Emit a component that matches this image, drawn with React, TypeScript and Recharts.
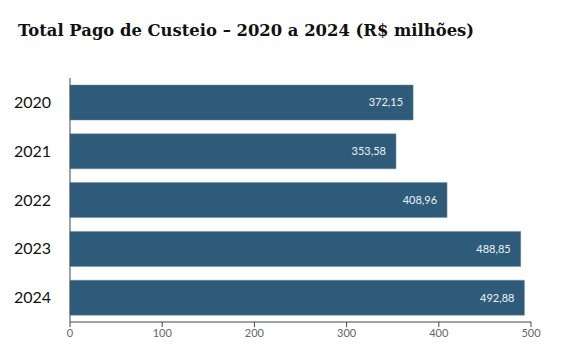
import React from "react";
import { BarChart, Bar, XAxis, YAxis, LabelList } from "recharts";

const years = ["2020", "2021", "2022", "2023", "2024"];
const values = [372.15, 353.58, 408.96, 488.85, 492.88];
const xTicks = [0, 100, 200, 300, 400, 500];

const data = years.map((year, i) => ({ year, value: values[i] }));

const fmt = (v: number) => v.toFixed(2).replace(".", ",");

export default function App() {
  return (
    <div style={{ position: "absolute", left: 0, top: 0, width: 567, height: 358, background: "#fff" }}>
      <div
        style={{
          position: "absolute",
          left: 18,
          top: 21,
          fontFamily: "DejaVu Serif",
          fontWeight: 700,
          fontSize: 16.4,
          color: "#111",
          whiteSpace: "nowrap",
        }}
      >
        Total Pago de Custeio – 2020 a 2024 (R$ milhões)
      </div>
      <BarChart
        width={567}
        height={358}
        data={data}
        layout="vertical"
        margin={{ top: 78, right: 36, bottom: 6, left: 10 }}
        barSize={35}
      >
        <XAxis
          type="number"
          domain={[0, 500]}
          ticks={xTicks}
          height={30}
          axisLine={{ stroke: "#444" }}
          tickLine={{ stroke: "#444" }}
          tickSize={5}
          tick={{ fill: "#666", fontSize: 11, fontFamily: "Lato" }}
        />
        <YAxis
          type="category"
          dataKey="year"
          width={60}
          axisLine={{ stroke: "#444" }}
          tickLine={false}
          tickMargin={13}
          tick={{ fill: "#111", fontSize: 16, fontFamily: "Lato" }}
        />
        <Bar dataKey="value" fill="#2d5b79" stroke="#6f8fa6" strokeWidth={0.5} isAnimationActive={false}>
          <LabelList
            dataKey="value"
            position="insideRight"
            offset={10}
            formatter={(v: any) => fmt(Number(v))}
            style={{ fill: "#eef2f5", fontSize: 11, fontFamily: "Lato" }}
          />
        </Bar>
      </BarChart>
    </div>
  );
}
